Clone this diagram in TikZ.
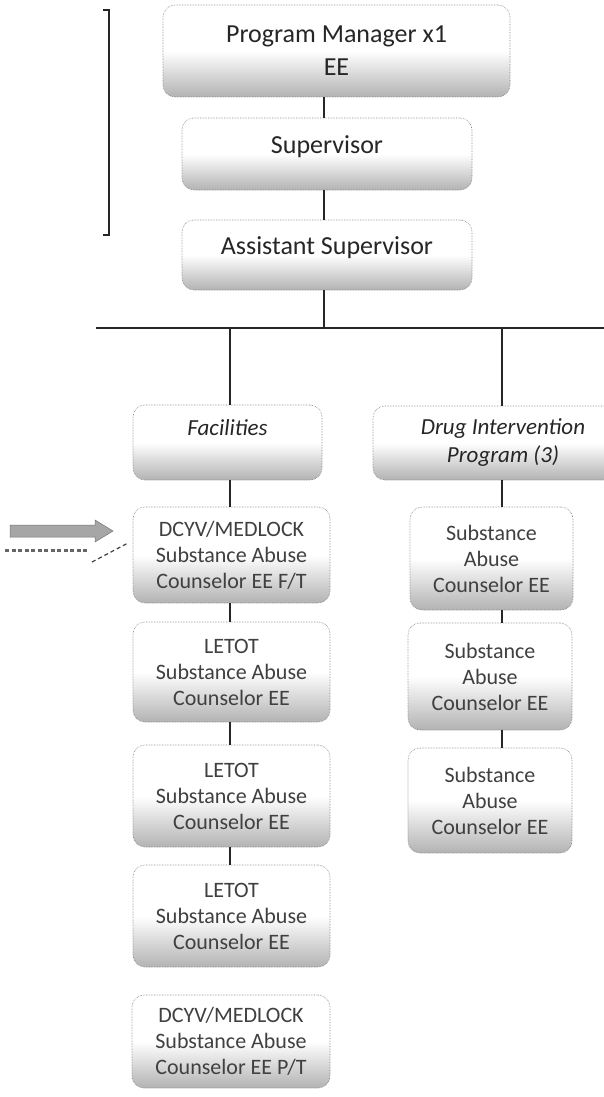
\documentclass[tikz,border=0pt]{standalone}
\usepackage{fontspec}
\setmainfont{Carlito}
\begin{document}
\begin{tikzpicture}[x=1pt,y=-1pt,
  box/.style={draw=black!50, densely dotted, line width=0.6pt, rounded corners=12pt,
    top color=white, bottom color=black!30, middle color=white, inner sep=0pt},
  conn/.style={draw=black!85, line width=1.2pt},
  t1/.style={font=\fontsize{26}{33}\selectfont, text=black!85, align=center},
  t2/.style={font=\fontsize{23}{28}\selectfont\itshape, text=black!85, align=center},
  t3/.style={font=\fontsize{22}{26}\selectfont, text=black!75, align=center},
]
\fill[white] (0,0) rectangle (604,1097);
\useasboundingbox (0,0) rectangle (604,1097);
\clip (0,0) rectangle (604,1097);

% top chain
\node[box, minimum width=347pt, minimum height=92pt, t1] (pm) at (336.5,51) {Program Manager x1\\EE};
\node[box, minimum width=290pt, minimum height=72pt] (sup) at (327,154) {};
\node[t1] (supt) at (327,147) {Supervisor};
\node[box, minimum width=290pt, minimum height=70pt] (asst) at (327,255) {};
\node[t1] (asstt) at (327,248) {Assistant Supervisor};

% second level
\node[box, minimum width=189pt, minimum height=75pt] (fac) at (227.5,442.5) {};
\node[t2] (fact) at (227.5,428) {Facilities};
\node[box, minimum width=260pt, minimum height=74pt, t2] (drug) at (503,443) {Drug Intervention\\Program (3)};

% left column
\node[box, minimum width=197pt, minimum height=96pt, t3] (dcyv1) at (231.5,555) {DCYV/MEDLOCK\\Substance Abuse\\Counselor EE F/T};
\node[box, minimum width=197pt, minimum height=100pt, t3] (letot1) at (231.5,672) {LETOT\\Substance Abuse\\Counselor EE};
\node[box, minimum width=197pt, minimum height=102pt, t3] (letot2) at (231.5,796) {LETOT\\Substance Abuse\\Counselor EE};
\node[box, minimum width=197pt, minimum height=102pt, t3] (letot3) at (231.5,916) {LETOT\\Substance Abuse\\Counselor EE};
\node[box, minimum width=198pt, minimum height=93pt, t3] (dcyv2) at (231,1041.5) {DCYV/MEDLOCK\\Substance Abuse\\Counselor EE P/T};

% right column
\node[box, minimum width=163pt, minimum height=103pt, t3] (sub1) at (491.5,558.5) {Substance\\Abuse\\Counselor EE};
\node[box, minimum width=164pt, minimum height=107pt, t3] (sub2) at (490,676.5) {Substance\\Abuse\\Counselor EE};
\node[box, minimum width=164pt, minimum height=105pt, t3] (sub3) at (490,800.5) {Substance\\Abuse\\Counselor EE};

% helper coordinates
\coordinate (tx) at (324,0);
\coordinate (lx) at (230,0);
\coordinate (rx) at (502,0);
\coordinate (hl) at (96,328);
\coordinate (hr) at (604,328);

% connectors
\draw[conn] (pm.south -| tx) -- (sup.north -| tx);
\draw[conn] (sup.south -| tx) -- (asst.north -| tx);
\draw[conn] (asst.south -| tx) -- (tx |- hl);
\draw[conn, line width=1.7pt] (hl) -- (hr);
\draw[conn] (lx |- hl) -- (fac.north -| lx);
\draw[conn] (rx |- hl) -- (drug.north -| rx);
\draw[conn] (fac.south -| lx) -- (dcyv1.north -| lx);
\draw[conn] (dcyv1.south -| lx) -- (letot1.north -| lx);
\draw[conn] (letot1.south -| lx) -- (letot2.north -| lx);
\draw[conn] (letot2.south -| lx) -- (letot3.north -| lx);
\draw[conn] (drug.south -| rx) -- (sub1.north -| rx);
\draw[conn] (sub1.south -| rx) -- (sub2.north -| rx);
\draw[conn] (sub2.south -| rx) -- (sub3.north -| rx);

% bracket at left
\draw[black!85, line width=1.4pt] (103,10) -- (109,10) -- (109,235) -- (103,235);

% stray arrow marks at left
\draw[black!55, fill=black!35, line width=0.5pt] (10,525) -- (95,525) -- (95,520) -- (113,531) -- (95,542) -- (95,537) -- (10,537) -- cycle;
\draw[black!60, line width=3pt, dash pattern=on 4pt off 2.5pt] (5,550) -- (88,550);
\draw[black!75, line width=1.2pt, dash pattern=on 4pt off 3pt] (92,562) -- (128,543);
\end{tikzpicture}
\end{document}
